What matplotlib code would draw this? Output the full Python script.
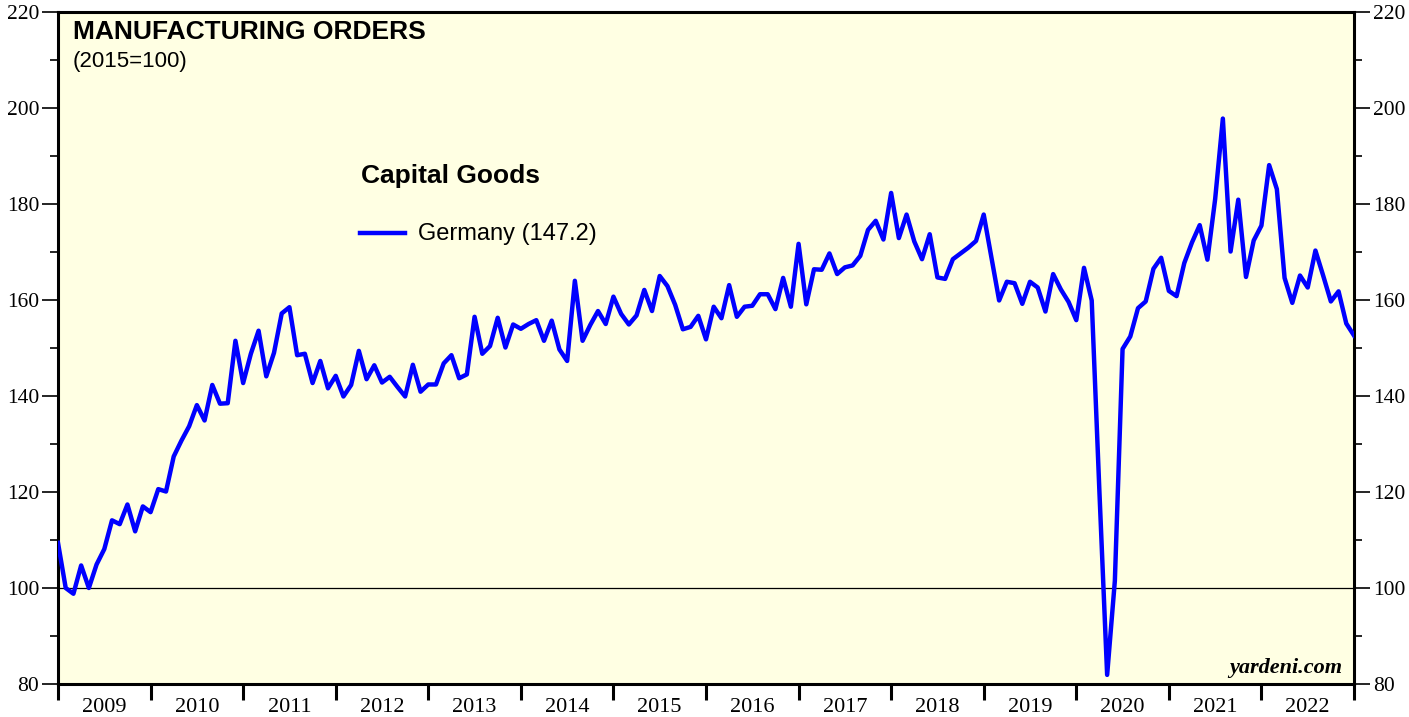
"""Manufacturing orders, capital goods, Germany (2015=100) - yardeni style line chart."""
import numpy as np
import matplotlib
matplotlib.use("Agg")
import matplotlib.pyplot as plt
from matplotlib.ticker import MultipleLocator, FixedLocator, NullFormatter

# monthly values, Jan 2009 .. Jan 2023
germany = [
    109.4, 100.0, 98.8, 104.7, 100.0, 104.9, 108.1, 114.1, 113.3, 117.4, 111.8, 117.0,   # 2009
    115.8, 120.6, 120.1, 127.4, 130.7, 133.7, 138.1, 134.9, 142.3, 138.4, 138.5, 151.5,  # 2010
    142.7, 148.8, 153.6, 144.1, 149.0, 157.2, 158.5, 148.5, 148.8, 142.7, 147.3, 141.6,  # 2011
    144.2, 139.9, 142.3, 149.4, 143.5, 146.4, 142.8, 144.0, 141.9, 139.9, 146.5, 140.9,  # 2012
    142.4, 142.4, 146.8, 148.5, 143.7, 144.5, 156.5, 148.8, 150.4, 156.3, 150.1, 154.9,  # 2013
    154.0, 155.0, 155.8, 151.5, 155.7, 149.7, 147.3, 164.0, 151.5, 154.8, 157.7, 155.0,  # 2014
    160.7, 157.1, 154.9, 156.8, 162.1, 157.7, 165.0, 162.9, 159.0, 153.9, 154.4, 156.7,  # 2015
    151.8, 158.6, 156.2, 163.1, 156.5, 158.6, 158.8, 161.2, 161.2, 158.1, 164.6, 158.6,  # 2016
    171.7, 159.1, 166.4, 166.3, 169.7, 165.4, 166.8, 167.2, 169.2, 174.6, 176.5, 172.6,  # 2017
    182.3, 172.9, 177.8, 172.2, 168.5, 173.7, 164.7, 164.4, 168.5, 169.7, 170.9, 172.3,  # 2018
    177.8, 168.9, 159.9, 163.8, 163.5, 159.2, 163.8, 162.6, 157.6, 165.4, 162.2, 159.6,  # 2019
    155.8, 166.7, 159.9, 120.0, 81.9, 101.5, 149.8, 152.4, 158.3, 159.7, 166.5, 168.8,   # 2020
    161.9, 160.8, 167.7, 172.0, 175.6, 168.4, 181.0, 197.8, 170.1, 180.9, 164.8, 172.4,  # 2021
    175.5, 188.1, 183.1, 164.6, 159.4, 165.1, 162.6, 170.3, 165.1, 159.7, 161.8, 155.1,  # 2022
    152.6,
]
start_year = 2009
years = list(range(2009, 2023))
latest = 147.2

x = start_year + np.arange(len(germany)) / 12.0
y = np.array(germany)

BLUE = "#0000FF"
PANEL = "#FFFFE3"
SANS = "Liberation Sans"
SERIF = "Liberation Serif"
W, H = 1409, 717

fig = plt.figure(figsize=(W / 100, H / 100), dpi=100)
ax = fig.add_axes([58 / W, 1 - 684 / H, (1354 - 58) / W, (684 - 12) / H])
ax.set_facecolor(PANEL)

ax.axhline(100, color="black", lw=0.9, zorder=1)
ax.plot(x, y, color=BLUE, lw=3.2, zorder=3)

ax.set_xlim(2009, 2023)
ax.set_ylim(80, 220)

# y ticks on both sides
ax.yaxis.set_major_locator(MultipleLocator(20))
ax.yaxis.set_minor_locator(MultipleLocator(10))
ax.tick_params(axis="y", which="major", direction="out", length=11.5, width=1.2,
               left=True, right=True, labelleft=True, labelright=True, labelsize=15.5, pad=2)
ax.tick_params(axis="y", which="minor", direction="out", length=5.8, width=1.2,
               left=True, right=True)
for lab in ax.get_yticklabels():
    lab.set_fontfamily(SERIF)

# x: year boundaries as ticks, labels in the middle of each year
ax.xaxis.set_major_locator(FixedLocator(np.arange(2009, 2024)))
ax.xaxis.set_major_formatter(NullFormatter())
ax.xaxis.set_minor_locator(FixedLocator([yr + 0.5 for yr in years]))
ax.set_xticklabels([str(yr) for yr in years], minor=True)
ax.tick_params(axis="x", which="major", direction="out", length=11.5, width=2.2)
ax.tick_params(axis="x", which="minor", length=0, labelsize=16, pad=10)
for lab in ax.get_xticklabels(minor=True):
    lab.set_fontfamily(SERIF)

for side in ["left", "right", "bottom", "top"]:
    ax.spines[side].set_linewidth(2.2)

# titles
fig.text(73 / W, 1 - 32 / H, "MANUFACTURING ORDERS", fontsize=19, fontweight="bold",
         family=SANS, va="center", ha="left")
fig.text(73 / W, 1 - 61 / H, "(2015=100)", fontsize=16, family=SANS, va="center", ha="left")
fig.text(361 / W, 1 - 176 / H, "Capital Goods", fontsize=19, fontweight="bold",
         family=SANS, va="center", ha="left")

# hand-made legend
fig.add_artist(plt.Line2D([360 / W, 405 / W], [1 - 233 / H, 1 - 233 / H],
                          color=BLUE, lw=3.2))
fig.text(418 / W, 1 - 234 / H, "Germany (%.1f)" % latest, fontsize=17, family=SANS,
         va="center", ha="left")

fig.text(1342 / W, 1 - 668 / H, "yardeni.com", fontsize=16, family=SERIF,
         fontweight="bold", style="italic", va="center", ha="right")

fig.savefig("out.png", dpi=100, facecolor="white")
